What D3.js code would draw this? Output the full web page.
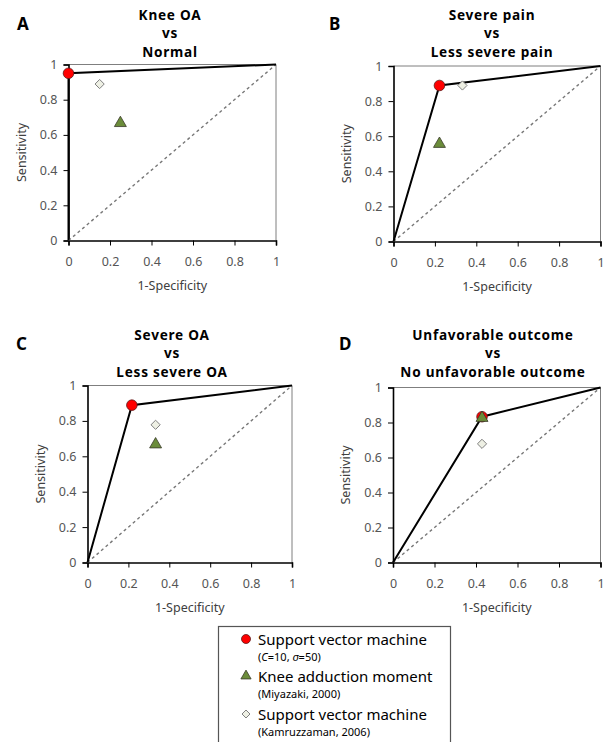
<!DOCTYPE html>
<html>
<head>
<meta charset="utf-8">
<script src="https://cdn.jsdelivr.net/npm/d3@7"></script>
<style>
  body { margin: 0; background: #fff; }
  svg { font-family: "Noto Sans", "Open Sans", sans-serif; }
</style>
</head>
<body>
<svg id="chart"></svg>
<script>
var width = 606, height = 742;

// panel data
var panelLetters = ["A", "B", "C", "D"];
var panelTitles = [
  ["Knee OA", "vs", "Normal"],
  ["Severe pain", "vs", "Less severe pain"],
  ["Severe OA", "vs", "Less severe OA"],
  ["Unfavorable outcome", "vs", "No unfavorable outcome"]
];
// support vector machine (C=10, sigma=50)
var svmX = [0, 0.222, 0.217, 0.429];
var svmY = [0.95, 0.889, 0.889, 0.833];
// knee adduction moment (Miyazaki, 2000)
var kamX = [0.25, 0.222, 0.333, 0.429];
var kamY = [0.667, 0.556, 0.667, 0.826];
// support vector machine (Kamruzzaman, 2006)
var kzX = [0.15, 0.333, 0.333, 0.429];
var kzY = [0.889, 0.889, 0.778, 0.678];

var ticks = [0, 0.2, 0.4, 0.6, 0.8, 1];
var tickLabels = ["0", "0.2", "0.4", "0.6", "0.8", "1"];

var legendLabels = ["Support vector machine", "Knee adduction moment", "Support vector machine"];
var legendSubs = [null, "(Miyazaki, 2000)", "(Kamruzzaman, 2006)"];

// layout of each plot area
var boxes = [
  {x0: 68.5, x1: 276, yt: 64.5, yb: 240.5, tx: 170, ty: 19.5, lx: 17, ly: 30},
  {x0: 393.5, x1: 600.5, yt: 66, yb: 241.5, tx: 492, ty: 19.5, lx: 329, ly: 30},
  {x0: 87.5, x1: 292, yt: 385.5, yb: 562.5, tx: 172, ty: 339.5, lx: 16, ly: 350},
  {x0: 393, x1: 600.5, yt: 387.5, yb: 562.5, tx: 493, ty: 339.5, lx: 339, ly: 350}
];

var svg = d3.select("#chart").attr("width", width).attr("height", height);

var triangle = d3.symbol().type(d3.symbolTriangle).size(62);

// square turned 45 degrees
function diamond(r) {
  return "M0," + (-r) + "L" + r + ",0L0," + r + "L" + (-r) + ",0Z";
}

panelLetters.forEach(function(letter, i) {
  var b = boxes[i];
  var x = d3.scaleLinear().domain([0, 1]).range([b.x0, b.x1]);
  var y = d3.scaleLinear().domain([0, 1]).range([b.yb, b.yt]);
  var g = svg.append("g");

  // letter + title
  g.append("text").attr("x", b.lx).attr("y", b.ly)
    .style("font-size", "17px").style("font-weight", "bold").attr("fill", "#000")
    .text(letter);
  g.selectAll(".title").data(panelTitles[i]).enter().append("text")
    .attr("class", "title")
    .attr("x", b.tx).attr("y", function(d, j) { return b.ty + j * 18.6; })
    .attr("text-anchor", "middle").style("font-size", "13.6px").style("font-weight", "bold")
    .style("letter-spacing", "0.75px")
    .text(function(d) { return d; });

  // plot border (top/right)
  g.append("path")
    .attr("d", "M" + x(0) + "," + y(1) + "H" + x(1) + "V" + y(0))
    .attr("fill", "none").attr("stroke", "#7f7f7f").attr("stroke-width", 1);

  // axes
  var xAxis = d3.axisBottom(x).tickValues(ticks).tickSize(5).tickPadding(12)
    .tickFormat(function(d, j) { return tickLabels[j]; });
  var yAxis = d3.axisLeft(y).tickValues(ticks).tickSize(5).tickPadding(6)
    .tickFormat(function(d, j) { return tickLabels[j]; });

  var gx = g.append("g").attr("transform", "translate(0," + y(0) + ")").call(xAxis);
  var gy = g.append("g").attr("transform", "translate(" + x(0) + ",0)").call(yAxis);
  [gx, gy].forEach(function(a) {
    a.select(".domain").attr("stroke", "#000").attr("stroke-width", 1.6);
    a.selectAll(".tick line").attr("stroke", "#000").attr("stroke-width", 1);
    a.selectAll(".tick text").attr("fill", "#555").style("font-size", "12.5px")
      .style("font-family", "'Noto Sans', sans-serif");
  });

  // axis titles
  g.append("text").attr("x", (b.x0 + b.x1) / 2).attr("y", b.yb + 49)
    .attr("text-anchor", "middle").attr("fill", "#404040").style("font-size", "12.5px")
    .text("1-Specificity");
  g.append("text")
    .attr("transform", "translate(" + (b.x0 - 43) + "," + ((b.yt + b.yb) / 2) + ") rotate(-90)")
    .attr("text-anchor", "middle").attr("fill", "#404040").style("font-size", "12.5px")
    .text("Sensitivity");

  // chance diagonal
  g.append("line")
    .attr("x1", x(0)).attr("y1", y(0)).attr("x2", x(1)).attr("y2", y(1))
    .attr("stroke", "#777").attr("stroke-width", 1.4).attr("stroke-dasharray", "3,3");

  // ROC line
  var roc = [[0, 0], [svmX[i], svmY[i]], [1, 1]];
  g.append("path")
    .attr("d", d3.line().x(function(d) { return x(d[0]); }).y(function(d) { return y(d[1]); })(roc))
    .attr("fill", "none").attr("stroke", "#000").attr("stroke-width", 2);

  // markers
  g.append("path")
    .attr("transform", "translate(" + x(kzX[i]) + "," + y(kzY[i]) + ")")
    .attr("d", diamond(4.6)).attr("fill", "#eef0e4").attr("stroke", "#808080").attr("stroke-width", 1);
  g.append("circle")
    .attr("cx", x(svmX[i])).attr("cy", y(svmY[i])).attr("r", 5.3)
    .attr("fill", "#ff0000").attr("stroke", "#5a1a1a").attr("stroke-width", 0.8);
  g.append("path")
    .attr("transform", "translate(" + x(kamX[i]) + "," + y(kamY[i]) + ")")
    .attr("d", triangle()).attr("fill", "#6b8c3a").attr("stroke", "#3a3a2a").attr("stroke-width", 0.8);
});

// legend
var lg = svg.append("g");
lg.append("rect").attr("x", 218.5).attr("y", 626.5).attr("width", 232).attr("height", 130)
  .attr("fill", "#fff").attr("stroke", "#555").attr("stroke-width", 1.2);

var rowY = [640, 677, 715];
legendLabels.forEach(function(d, i) {
  lg.append("text").attr("x", 258).attr("y", rowY[i] + 5)
    .attr("fill", "#000").style("font-size", "15px").text(d);
});
// sub labels
var sub1 = lg.append("text").attr("x", 258).attr("y", rowY[0] + 21)
  .attr("fill", "#000").style("font-size", "11px");
sub1.append("tspan").text("(");
sub1.append("tspan").style("font-style", "italic").text("C");
sub1.append("tspan").text("=10, ");
sub1.append("tspan").style("font-style", "italic").text("σ");
sub1.append("tspan").text("=50)");
legendSubs.forEach(function(d, i) {
  if (d == null) return;
  lg.append("text").attr("x", 258).attr("y", rowY[i] + 21)
    .attr("fill", "#000").style("font-size", "11px").text(d);
});

lg.append("circle").attr("cx", 246).attr("cy", rowY[0] - 1).attr("r", 4.5)
  .attr("fill", "#ff0000").attr("stroke", "#5a1a1a").attr("stroke-width", 0.8);
lg.append("path").attr("transform", "translate(246," + (rowY[1] - 1) + ")")
  .attr("d", d3.symbol().type(d3.symbolTriangle).size(45)())
  .attr("fill", "#6b8c3a").attr("stroke", "#3a3a2a").attr("stroke-width", 0.8);
lg.append("path").attr("transform", "translate(246," + (rowY[2] - 1) + ")")
  .attr("d", diamond(4))
  .attr("fill", "#eef0e4").attr("stroke", "#808080").attr("stroke-width", 1);
</script>
</body>
</html>
